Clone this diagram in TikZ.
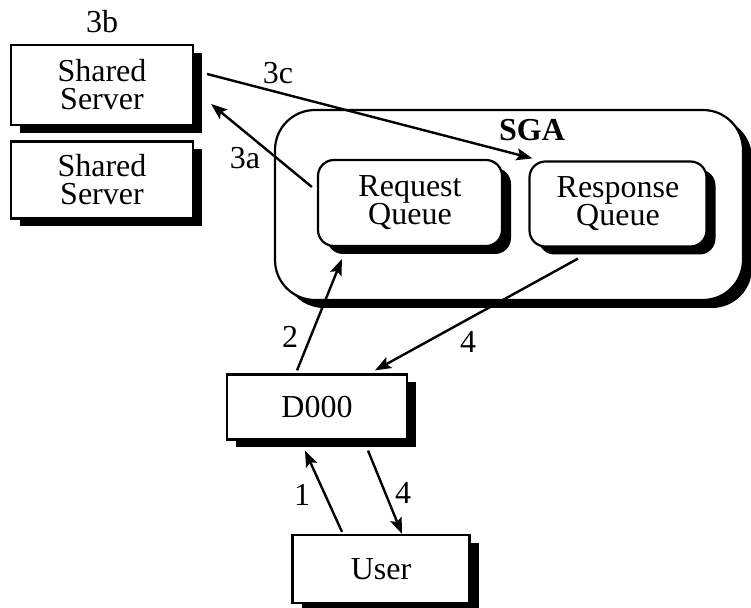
\documentclass[tikz,border=0pt]{standalone}
\usepackage{fontspec}
\setmainfont{Liberation Serif}
\usetikzlibrary{arrows.meta,shadows}

\tikzset{
  box/.style={draw=black, line width=1.1pt, fill=white, align=center,
    font=\fontsize{16}{14}\selectfont,
    drop shadow={shadow xshift=4.5pt, shadow yshift=-4pt, opacity=1, fill=black}},
  queue/.style={box, rounded corners=8pt},
  lbl/.style={font=\fontsize{16}{14}\selectfont},
  flow/.style={line width=1.2pt, -{Stealth[length=8pt,width=6pt,inset=1.5pt]}}
}

\begin{document}
\begin{tikzpicture}[x=0.5pt,y=-0.5pt]
\useasboundingbox (0,0) rectangle (751,608);

% servers on the left
\node[box, minimum width=91pt, minimum height=40pt] (s1) at (102,85) {Shared\\Server};
\node[box, minimum width=91pt, minimum height=38.5pt] (s2) at (102,180) {Shared\\Server};
\node[lbl] (l3b) at (102,22) {3b};

% shared memory and its two queues
\node[box, rounded corners=20pt, minimum width=234pt, minimum height=95pt] (sga) at (509,205) {};
\node[lbl, font=\fontsize{16}{14}\selectfont\bfseries] (sgalbl) at (532,130) {SGA};
\node[queue, minimum width=92pt, minimum height=43pt] (req) at (410,203) {Request\\Queue};
\node[queue, minimum width=88.5pt, minimum height=42.5pt] (resp) at (618,204) {Response\\Queue};

% dispatcher and user
\node[box, minimum width=90pt, minimum height=32.5pt] (d000) at (317,407) {D000};
\node[box, minimum width=88.5pt, minimum height=34pt] (user) at (381,569) {User};

\draw[flow] ([shift={(-5,-16)}]req.west) -- ([shift={(17,19)}]s1.east);
\draw[flow] ([shift={(13,-11)}]s1.east) -- ([shift={(4,-2)}]resp.north west);
\draw[flow] ([shift={(-20,-3)}]d000.north) -- ([shift={(25,12)}]req.south west);
\draw[flow] ([shift={(-40,11)}]resp.south) -- ([shift={(58,-3)}]d000.north);
\draw[flow] ([shift={(-39,-2)}]user.north) -- ([shift={(-12,10)}]d000.south);
\draw[flow] ([shift={(51,10)}]d000.south) -- ([shift={(21,0)}]user.north);

\node[lbl] (l3c) at (278,73) {3c};
\node[lbl] (l3a) at (245,158) {3a};
\node[lbl] (l2) at (290,337) {2};
\node[lbl] (l4a) at (468,342) {4};
\node[lbl] (l1) at (302,495) {1};
\node[lbl] (l4b) at (403,493) {4};
\end{tikzpicture}
\end{document}
